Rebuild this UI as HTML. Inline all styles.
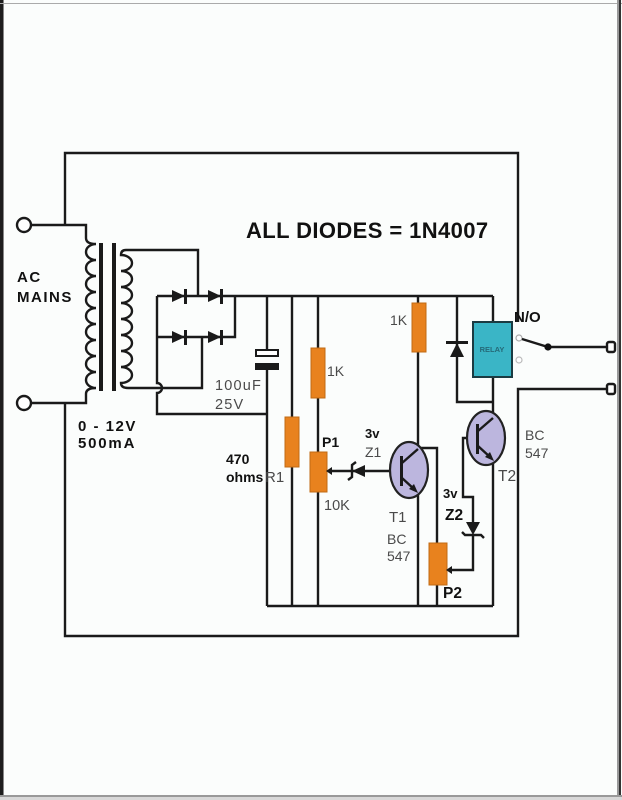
<!DOCTYPE html>
<html>
<head>
<meta charset="utf-8">
<style>
  html,body{margin:0;padding:0;background:#fbfdfc;}
  svg{display:block;}
  .w{fill:none;stroke:#1a1a1a;stroke-width:2.4;stroke-linejoin:miter;}
  .res{fill:#e8821e;stroke:#c06a14;stroke-width:1;}
  .tr{fill:#bcb6de;stroke:#222;stroke-width:2.2;}
  .bk{fill:#111;font-family:"Liberation Sans",Arial,sans-serif;font-weight:bold;}
  .gr{fill:#4a4a4a;font-family:"Liberation Sans",Arial,sans-serif;}
</style>
</head>
<body>
<svg width="622" height="800" viewBox="0 0 622 800" xmlns="http://www.w3.org/2000/svg">
  <rect x="0" y="0" width="622" height="800" fill="#fbfdfc"/>
  <!-- image frame -->
  <rect x="0" y="0" width="3" height="800" fill="#1e1e1e"/>
  <rect x="3" y="0" width="1" height="800" fill="#888"/>
  <rect x="0" y="3" width="622" height="1" fill="#aaa"/>
  <rect x="617" y="0" width="2" height="800" fill="#999"/>
  <rect x="619" y="0" width="2" height="800" fill="#333"/>
  <rect x="0" y="795" width="622" height="2" fill="#999"/>
  <rect x="0" y="797" width="622" height="3" fill="#d8d8d8"/>

  <!-- outer loop -->
  <path class="w" d="M65,225 V153 H518 V322"/>
  <path class="w" d="M65,403 V636 H518 V389 H607"/>

  <!-- left terminals -->
  <circle cx="24" cy="225" r="7" fill="#fff" stroke="#1a1a1a" stroke-width="2.4"/>
  <circle cx="24" cy="403" r="7" fill="#fff" stroke="#1a1a1a" stroke-width="2.4"/>

  <!-- primary coil -->
  <path class="w" d="M31,225 H86 V238 Q86,244 96,244
     a10 8 0 0 0 0 16 a10 8 0 0 0 0 16 a10 8 0 0 0 0 16
     a10 8 0 0 0 0 16 a10 8 0 0 0 0 16 a10 8 0 0 0 0 16
     a10 8 0 0 0 0 16 a10 8 0 0 0 0 16 a10 8 0 0 0 0 16
     Q86,388 86,394 V403 H31"/>
  <!-- core -->
  <rect x="99" y="243" width="4" height="148" fill="#1a1a1a"/>
  <rect x="112" y="243" width="4" height="148" fill="#1a1a1a"/>
  <!-- secondary coil -->
  <path class="w" d="M198,296 V250 H126 Q121,250 121,255
     a11 8 0 0 1 0 16 a11 8 0 0 1 0 16 a11 8 0 0 1 0 16
     a11 8 0 0 1 0 16 a11 8 0 0 1 0 16 a11 8 0 0 1 0 16
     a11 8 0 0 1 0 16 a11 8 0 0 1 0 16
     Q121,388 128,388 H202 V337"/>

  <!-- bridge -->
  <path class="w" d="M157,296 H493"/>
  <path class="w" d="M157,337 H235 V296"/>
  <path class="w" d="M157,296 V383 a5 5 0 0 1 0 10 V414 H267"/>
  <!-- diodes (pointing right) -->
  <g fill="#1a1a1a">
    <polygon points="172,290 185,296 172,302"/>
    <rect x="184" y="289" width="3" height="15"/>
    <polygon points="208,290 221,296 208,302"/>
    <rect x="220" y="289" width="3" height="15"/>
    <polygon points="172,331 185,337 172,343"/>
    <rect x="184" y="330" width="3" height="15"/>
    <polygon points="208,331 221,337 208,343"/>
    <rect x="220" y="330" width="3" height="15"/>
  </g>

  <!-- capacitor -->
  <path class="w" d="M267,296 V351 M267,368 V606"/>
  <rect x="256" y="350" width="22" height="6" fill="#fff" stroke="#1a1a1a" stroke-width="2"/>
  <rect x="255" y="363" width="24" height="7" fill="#1a1a1a"/>

  <!-- R1 branch -->
  <path class="w" d="M292,296 V606"/>
  <rect class="res" x="285" y="417" width="14" height="50"/>

  <!-- 1K + P1 branch -->
  <path class="w" d="M318,296 V606"/>
  <rect class="res" x="311" y="348" width="14" height="50"/>
  <rect class="res" x="310" y="452" width="17" height="40"/>
  <polygon points="326,471 332,467 332,475" fill="#1a1a1a"/>
  <path class="w" d="M330,471 H401"/>
  <!-- Z1 -->
  <polygon points="352,471 365,465 365,477" fill="#1a1a1a"/>
  <path d="M356,462 L352,465 L352,477 L348,480" fill="none" stroke="#1a1a1a" stroke-width="2.4"/>

  <!-- bottom rail -->
  <path class="w" d="M267,606 H493"/>

  <!-- right 1K + T1 -->
  <path class="w" d="M418,296 V448 H437 V543 M437,585 V606"/>
  <rect class="res" x="412" y="303" width="14" height="49"/>
  <path class="w" d="M418,494 V606"/>
  <ellipse class="tr" cx="409" cy="470" rx="19" ry="28"/>
  <rect x="400" y="456" width="3" height="30" fill="#1a1a1a"/>
  <path class="w" d="M402,463 L418,449 M402,478 L414,489"/>
  <polygon points="418,493 409,489 414,484" fill="#1a1a1a"/>

  <!-- P2 -->
  <rect class="res" x="429" y="543" width="18" height="42"/>
  <polygon points="446,570 452,566 452,574" fill="#1a1a1a"/>
  <path class="w" d="M450,570 H473 V536"/>
  <!-- Z2 -->
  <path class="w" d="M473,522 V497 H463 V438 H477"/>
  <polygon points="466,522 480,522 473,535" fill="#1a1a1a"/>
  <path d="M462,532 L465,535 L481,535 L484,538" fill="none" stroke="#1a1a1a" stroke-width="2.4"/>

  <!-- freewheel diode -->
  <path class="w" d="M457,296 V402 H493"/>
  <rect x="446" y="341" width="22" height="3" fill="#1a1a1a"/>
  <polygon points="457,343 450,357 464,357" fill="#1a1a1a"/>

  <!-- relay -->
  <path class="w" d="M493,296 V322 M493,377 V420"/>
  <rect x="473" y="322" width="39" height="55" fill="#3ab5c6" stroke="#1b3b42" stroke-width="2"/>
  <text x="492" y="352" text-anchor="middle" font-family="Liberation Sans, Arial, sans-serif" font-weight="bold" font-size="7.5" fill="#256a78">RELAY</text>

  <!-- T2 -->
  <path class="w" d="M493,460 V606"/>
  <ellipse class="tr" cx="486" cy="438" rx="19" ry="27"/>
  <rect x="476" y="424" width="3" height="30" fill="#1a1a1a"/>
  <path class="w" d="M478,431 L493,418 M478,446 L490,457"/>
  <polygon points="494,461 485,457 490,452" fill="#1a1a1a"/>

  <!-- switch -->
  <circle cx="519" cy="338" r="3" fill="#fff" stroke="#aaa" stroke-width="1.2"/>
  <circle cx="519" cy="360" r="3" fill="#fff" stroke="#bbb" stroke-width="1.2"/>
  <path class="w" d="M522,339 L548,347 H607"/>
  <circle cx="548" cy="347" r="3.6" fill="#111"/>
  <rect x="607" y="342" width="8" height="10" rx="2" fill="#fff" stroke="#1a1a1a" stroke-width="2.4"/>
  <rect x="607" y="384" width="8" height="10" rx="2" fill="#fff" stroke="#1a1a1a" stroke-width="2.4"/>

  <!-- texts -->
  <text class="bk" x="246" y="238" font-size="22" letter-spacing="0.4">ALL DIODES = 1N4007</text>
  <text class="bk" x="17" y="282" font-size="15" letter-spacing="1.5">AC</text>
  <text class="bk" x="17" y="302" font-size="15" letter-spacing="1.5">MAINS</text>
  <text class="bk" x="78" y="431" font-size="15" letter-spacing="1.5">0 - 12V</text>
  <text class="bk" x="78" y="448" font-size="15" letter-spacing="1.8">500mA</text>
  <text class="gr" x="215" y="390" font-size="14.5" letter-spacing="1.2">100uF</text>
  <text class="gr" x="215" y="409" font-size="14.5" letter-spacing="1.2">25V</text>
  <text class="bk" x="226" y="464" font-size="14">470</text>
  <text class="bk" x="226" y="482" font-size="14">ohms</text>
  <text class="gr" x="265" y="482" font-size="15">R1</text>
  <text class="gr" x="327" y="376" font-size="14">1K</text>
  <text class="gr" x="390" y="325" font-size="14">1K</text>
  <text class="bk" x="322" y="447" font-size="14">P1</text>
  <text class="gr" x="324" y="510" font-size="14.5">10K</text>
  <text class="bk" x="365" y="438" font-size="13">3v</text>
  <text class="gr" x="365" y="457" font-size="14">Z1</text>
  <text class="gr" x="389" y="522" font-size="15">T1</text>
  <text class="gr" x="387" y="544" font-size="14">BC</text>
  <text class="gr" x="387" y="561" font-size="14">547</text>
  <text class="bk" x="443" y="498" font-size="13">3v</text>
  <text class="bk" x="445" y="520" font-size="15.5">Z2</text>
  <text class="bk" x="443" y="598" font-size="15.5">P2</text>
  <text class="gr" x="498" y="481" font-size="15.5">T2</text>
  <text class="gr" x="525" y="440" font-size="14">BC</text>
  <text class="gr" x="525" y="458" font-size="14">547</text>
  <text class="bk" x="514" y="322" font-size="15">N/O</text>
</svg>
</body>
</html>
